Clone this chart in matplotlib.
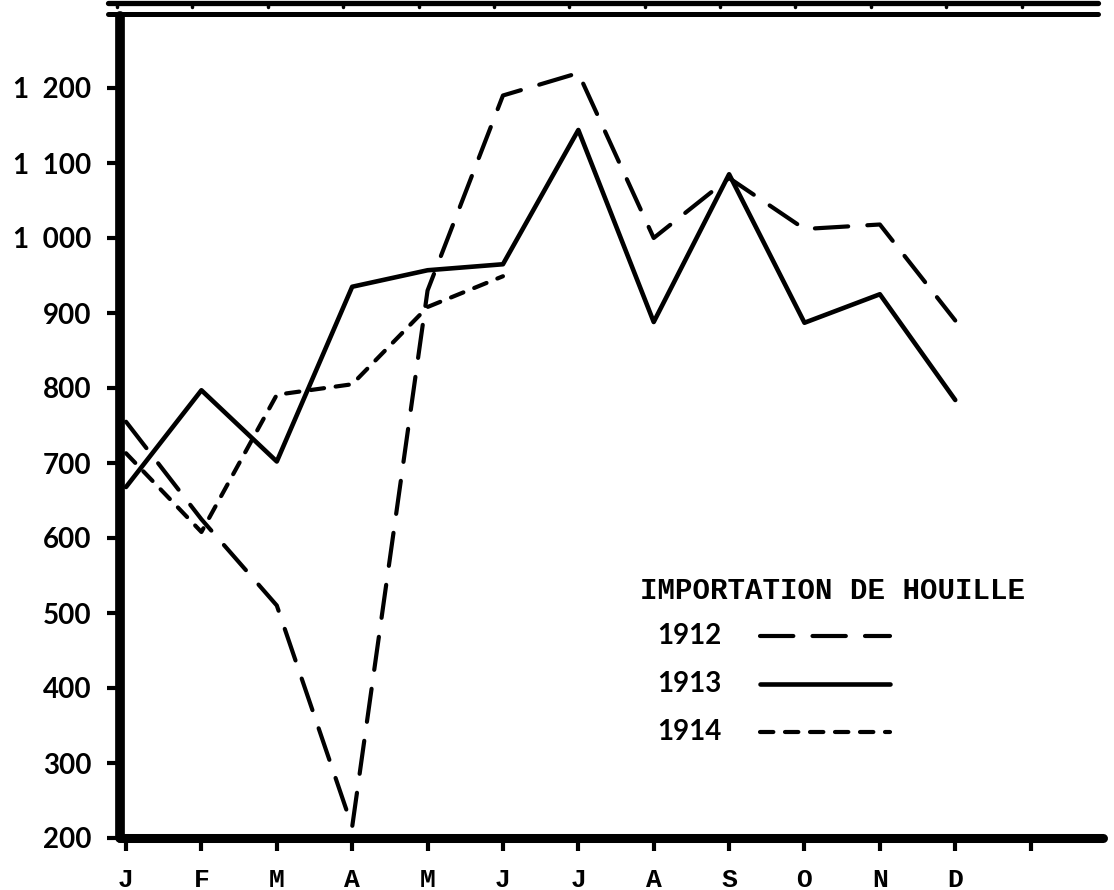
import matplotlib
matplotlib.use("Agg")
import matplotlib.pyplot as plt
from matplotlib.lines import Line2D
import matplotlib.transforms as mtransforms

# Monthly coal imports
months = ["J", "F", "M", "A", "M", "J", "J", "A", "S", "O", "N", "D"]
imp_1912 = [755, 625, 510, 215, 930, 1190, 1220, 1000, 1080, 1012, 1018, 890]
imp_1913 = [668, 797, 702, 935, 957, 965, 1144, 888, 1085, 887, 925, 784]
imp_1914 = [713, 608, 791, 805, 908, 949]

y_ticks = [200, 300, 400, 500, 600, 700, 800, 900, 1000, 1100, 1200]
y_labels = ["200", "300", "400", "500", "600", "700", "800", "900",
            "1  000", "1  100", "1  200"]
years = ["1912", "1913", "1914"]
title = "IMPORTATION DE HOUILLE"

W, H = 1114, 890
fig = plt.figure(figsize=(W / 100, H / 100), dpi=100)
fig.patch.set_facecolor("white")


def fx(px):
    return px / W


def fy(py):
    return 1 - py / H


ax = fig.add_axes([fx(120), fy(838), fx(1103) - fx(120), fy(16) - fy(838)])
ax.set_xlim(-0.08, 12.96)
ax.set_ylim(200, 1296)

LONG = (0, (8, 4.6))
SHORT = (0, (3.2, 2.8))
styles = {
    "1912": dict(ls=LONG, lw=3.0),
    "1913": dict(ls="-", lw=3.3),
    "1914": dict(ls=SHORT, lw=3.0),
}
series = {"1912": imp_1912, "1913": imp_1913, "1914": imp_1914}

for yr in years:
    vals = series[yr]
    ax.plot(range(len(vals)), vals, color="black",
            dash_capstyle="round", solid_capstyle="round",
            solid_joinstyle="round", dash_joinstyle="round",
            clip_on=False, **styles[yr])

# Axes frame: heavy left and bottom rules only
for side in ("top", "right"):
    ax.spines[side].set_visible(False)
ax.spines["left"].set_linewidth(7)
ax.spines["bottom"].set_linewidth(6.5)
for side in ("left", "bottom"):
    ax.spines[side].set_capstyle("round")
    ax.spines[side].set_color("black")

ax.set_yticks(y_ticks)
ax.set_yticklabels(y_labels, fontfamily="Lato", fontweight="bold", fontsize=20)
ax.tick_params(axis="y", direction="out", length=9.5, width=3, pad=11)

ax.set_xticks(range(13))
ax.set_xticklabels(months + [""], fontfamily="Liberation Mono",
                   fontweight="bold", fontsize=19)
ax.tick_params(axis="x", direction="out", length=9.5, width=3, pad=12)
ax.patch.set_visible(False)

# Double rule across the top
for ypx, lw in ((2.5, 3.8), (13.5, 3.6)):
    fig.add_artist(Line2D([fx(108), fx(1098)], [fy(ypx), fy(ypx)],
                          transform=fig.transFigure, color="black",
                          lw=lw, solid_capstyle="round"))
# small stubs hanging under the upper rule
blend = mtransforms.blended_transform_factory(ax.transData, fig.transFigure)
for m in range(13):
    fig.add_artist(Line2D([m - 0.12, m - 0.12], [fy(3), fy(7)],
                          transform=blend, color="black", lw=2.5,
                          solid_capstyle="round"))

# Title and key
fig.text(fx(640), fy(591), title, fontfamily="Liberation Mono",
         fontweight="bold", fontsize=21, va="center", ha="left")

key_y = {"1912": 636, "1913": 684, "1914": 732}
for yr in years:
    yy = fy(key_y[yr])
    fig.text(fx(657), yy, yr, fontfamily="Lato", fontweight="bold",
             fontsize=20, va="center", ha="left")
    st = styles[yr]
    fig.add_artist(Line2D([fx(760), fx(890)], [yy, yy],
                          transform=fig.transFigure, color="black",
                          lw=st["lw"], ls=st["ls"],
                          dash_capstyle="round", solid_capstyle="round"))

fig.savefig("out.png", dpi=100, facecolor="white")
